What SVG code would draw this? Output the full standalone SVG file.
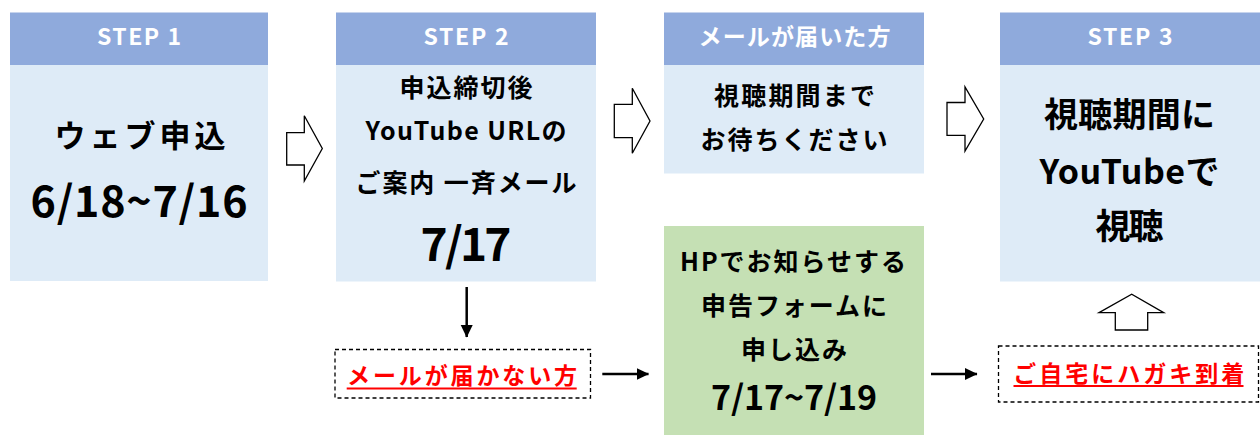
<svg xmlns="http://www.w3.org/2000/svg" width="1260" height="435" viewBox="0 0 1260 435">
  <style>
    .hdr { fill: #8FAADC; }
    .body { fill: #DEEBF7; }
    .green { fill: #C5E0B4; }
    text { font-family: "Noto Sans CJK JP", "Noto Sans", sans-serif; font-weight: bold; text-anchor: middle; }
    .ht { fill: #FFFFFF; font-size: 23px; }
    .bt { fill: #000000; }
    .red { fill: #FF0000; font-size: 23px; }
    .blk { fill: #FFFFFF; stroke: #000000; stroke-width: 1.3; }
    .dash { fill: #FFFFFF; stroke: #000000; stroke-width: 1.3; stroke-dasharray: 4 3; }
    .conn { stroke: #000000; stroke-width: 2.5; fill: none; }
    .ul { stroke: #FF0000; stroke-width: 2; }
  </style>
  <defs>
    <marker id="ah" markerUnits="userSpaceOnUse" markerWidth="13" markerHeight="13" refX="12" refY="6.5" orient="auto">
      <path d="M0,0.5 L12.5,6.5 L0,12.5 Z" fill="#000000"/>
    </marker>
  </defs>

  <g id="step1">
    <rect class="hdr" x="10" y="12.5" width="258" height="52.5"/>
    <rect class="body" x="10" y="65" width="258" height="216"/>
    <text class="ht" x="139" y="45" textLength="84">STEP 1</text>
    <text class="bt" x="140" y="147" font-size="31" textLength="171">ウェブ申込</text>
    <text class="bt" x="139" y="216.7" font-size="43" textLength="217">6/18~7/16</text>
  </g>

  <g id="step2">
    <rect class="hdr" x="336" y="12.5" width="260" height="52.5"/>
    <rect class="body" x="336" y="65" width="260" height="216.5"/>
    <text class="ht" x="466" y="45" textLength="85">STEP 2</text>
    <text class="bt" x="466" y="97" font-size="25" textLength="133">申込締切後</text>
    <text class="bt" x="466" y="140" font-size="25" textLength="201">YouTube URLの</text>
    <text class="bt" x="466" y="191.5" font-size="25" textLength="221">ご案内 一斉メール</text>
    <text class="bt" x="466" y="261" font-size="46" textLength="91">7/17</text>
  </g>

  <g id="mail-arrived">
    <rect class="hdr" x="664" y="12.5" width="260" height="52.5"/>
    <rect class="body" x="664" y="65" width="260" height="108.5"/>
    <text class="ht" x="794.5" y="44.5" font-size="22" textLength="192">メールが届いた方</text>
    <text class="bt" x="794.5" y="105" font-size="25" textLength="161">視聴期間まで</text>
    <text class="bt" x="794" y="148.5" font-size="25" textLength="187">お待ちください</text>
  </g>

  <g id="step3">
    <rect class="hdr" x="1000" y="12.5" width="260" height="52.5"/>
    <rect class="body" x="1000" y="65" width="260" height="216.5"/>
    <text class="ht" x="1130" y="45" textLength="85">STEP 3</text>
    <text class="bt" x="1129.5" y="127" font-size="34" textLength="171">視聴期間に</text>
    <text class="bt" x="1129.5" y="184.3" font-size="34" textLength="180">YouTubeで</text>
    <text class="bt" x="1129.5" y="239" font-size="35" textLength="68">視聴</text>
  </g>

  <g id="hp-form">
    <rect class="green" x="664" y="226" width="260" height="209"/>
    <text class="bt" x="793" y="270.5" font-size="25" textLength="226">HPでお知らせする</text>
    <text class="bt" x="794" y="315" font-size="25" textLength="186">申告フォームに</text>
    <text class="bt" x="794" y="358.5" font-size="25" textLength="106">申し込み</text>
    <text class="bt" x="794" y="410" font-size="34" textLength="166">7/17~7/19</text>
  </g>

  <g id="mail-not-arrived">
    <rect class="dash" x="335" y="349.5" width="255.5" height="48.5"/>
    <text class="red" x="462" y="384" textLength="230">メールが届かない方</text>
    <line class="ul" x1="346.7" y1="388.5" x2="576.7" y2="388.5"/>
  </g>

  <g id="postcard">
    <rect class="dash" x="998.5" y="346" width="260" height="56"/>
    <text class="red" x="1128.7" y="382" textLength="231">ご自宅にハガキ到着</text>
    <line class="ul" x1="1013.5" y1="386" x2="1243.5" y2="386"/>
  </g>

  <g id="connectors">
    <path class="blk" d="M286.7,132.7 H304.3 V115.7 L322.3,148.5 L304.3,181 V165 H286.7 Z"/>
    <path class="blk" d="M614.3,104.3 H632.3 V88.3 L650,121 L632.3,153.3 V137.7 H614.3 Z"/>
    <path class="blk" d="M947,102.5 H965 V87 L983.7,119 L965,151 V135.3 H947 Z"/>
    <path class="blk" d="M1115.3,330 V312.7 H1099 L1131.7,294.3 L1163.7,312.7 H1147.7 V330 Z"/>
    <line class="conn" x1="466.7" y1="287" x2="466.7" y2="337" marker-end="url(#ah)"/>
    <line class="conn" x1="602.3" y1="374" x2="648.5" y2="374" marker-end="url(#ah)"/>
    <line class="conn" x1="931" y1="374" x2="977" y2="374" marker-end="url(#ah)"/>
  </g>
</svg>
